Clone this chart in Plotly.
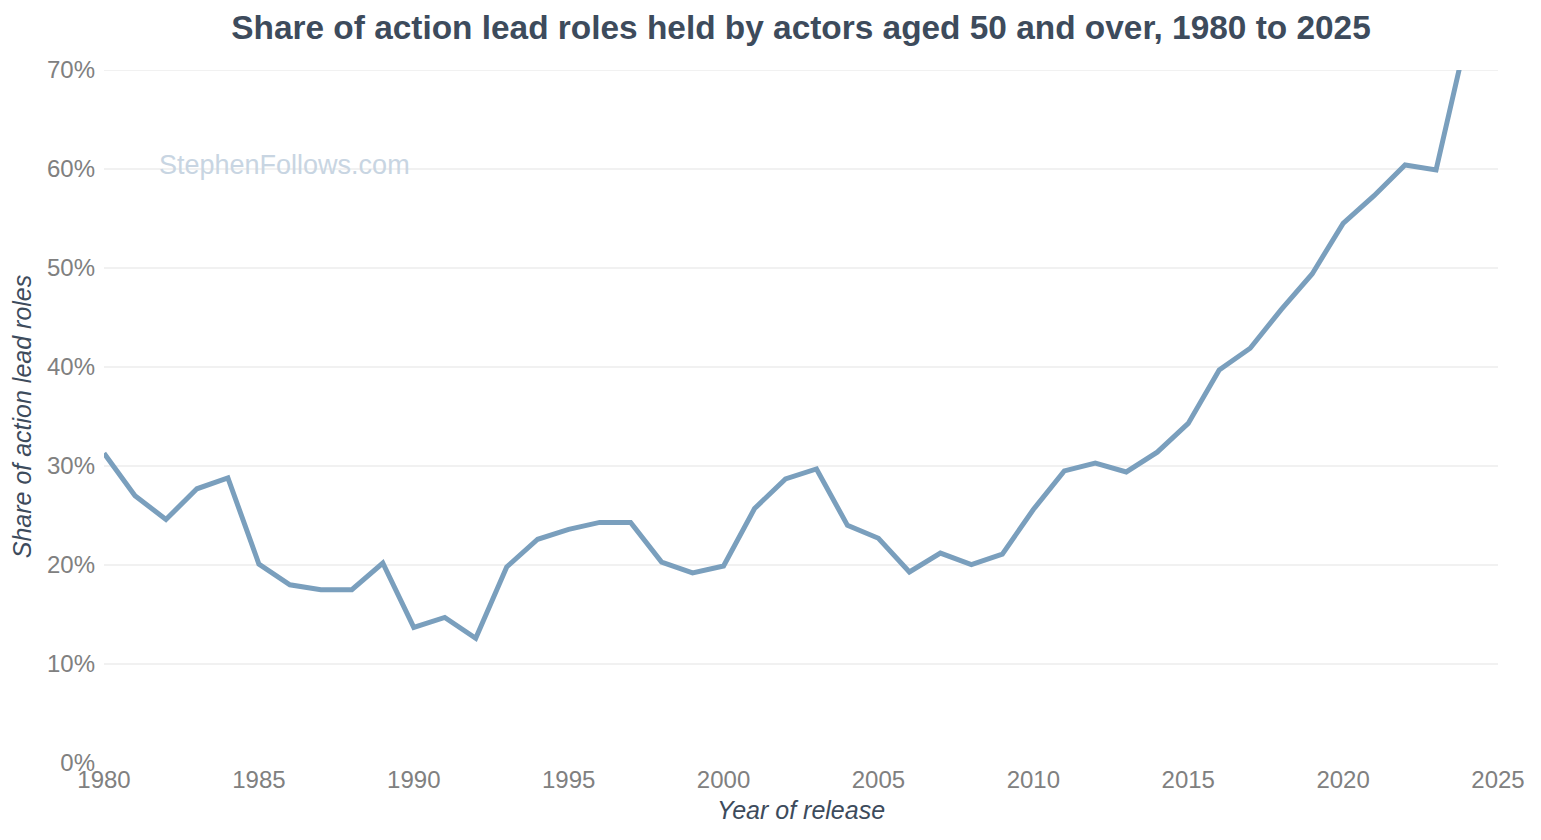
import plotly.graph_objects as go

years = list(range(1980, 2025))
share = [31.3, 27.0, 24.6, 27.7, 28.8, 20.1, 18.0, 17.5, 17.5, 20.2,
         13.7, 14.7, 12.6, 19.8, 22.6, 23.6, 24.3, 24.3, 20.3, 19.2,
         19.9, 25.7, 28.7, 29.7, 24.0, 22.7, 19.3, 21.2, 20.05, 21.1,
         25.6, 29.5, 30.3, 29.4, 31.4, 34.3, 39.7, 41.9, 45.8, 49.4,
         54.5, 57.3, 60.4, 59.9, 73.5]

x_ticks = [1980, 1985, 1990, 1995, 2000, 2005, 2010, 2015, 2020, 2025]
y_ticks = [0, 10, 20, 30, 40, 50, 60, 70]
y_labels = [f"{v}%" for v in y_ticks]

title_text = "Share of action lead roles held by actors aged 50 and over, 1980 to 2025"
x_title = "Year of release"
y_title = "Share of action lead roles"
watermark = "StephenFollows.com"

fig = go.Figure()
fig.add_trace(go.Scatter(
    x=years, y=share, mode="lines",
    line=dict(color="#7a9fbd", width=5),
    hoverinfo="x+y",
))

# horizontal gridlines (none at 0%)
grid_shapes = [dict(type="line", xref="paper", yref="y", x0=0, x1=1, y0=v, y1=v,
                    line=dict(color="#e3e3e3", width=1), layer="below")
               for v in y_ticks if v != 0]

fig.update_layout(
    width=1533, height=832,
    margin=dict(l=96, r=43, t=62, b=77),
    paper_bgcolor="white", plot_bgcolor="white",
    font=dict(family="Liberation Sans, Arial, sans-serif"),
    showlegend=False,
    title=dict(text=f"<b>{title_text}</b>", xref="paper", x=0.5, xanchor="center",
               y=(832 - 19) / 832, yanchor="middle",
               font=dict(size=33.4, color="#3d4b5c")),
    xaxis=dict(range=[1980, 2025], tickvals=x_ticks, showgrid=False,
               zeroline=False, showline=False, ticks="",
               tickfont=dict(size=24, color="#808080"),
               title=dict(text=f"<i>{x_title}</i>", standoff=9,
                          font=dict(size=25, color="#3d4b5c"))),
    yaxis=dict(range=[0, 70], tickvals=y_ticks, ticktext=y_labels,
               showgrid=False, zeroline=False, showline=False, ticks="",
               ticklabelstandoff=8,
               tickfont=dict(size=24, color="#808080"),
               title=dict(text=f"<i>{y_title}</i>", standoff=8,
                          font=dict(size=25, color="#3d4b5c"))),
    shapes=grid_shapes,
    annotations=[dict(text=watermark, xref="paper", yref="paper",
                      x=0.038, y=0.863, xanchor="left", yanchor="middle",
                      showarrow=False,
                      font=dict(size=27, color="#c8d5e2"))],
)

fig.write_html("out.html")
